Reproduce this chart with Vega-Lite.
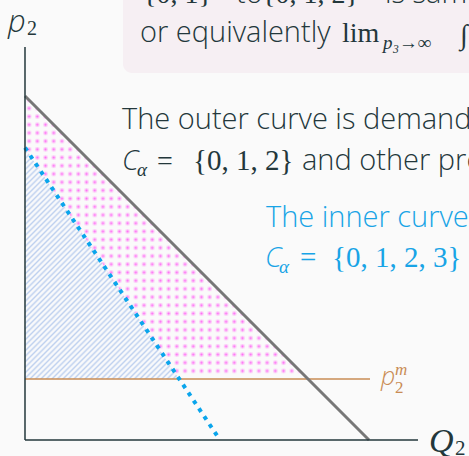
{
  "$schema": "https://vega.github.io/schema/vega-lite/v6.json",
  "width": 469,
  "height": 456,
  "autosize": {"type": "none"},
  "padding": 0,
  "background": "#fafafa",
  "config": {"view": {"stroke": null}},
  "datasets": {
    "pink": [{"y": 1.773, "x": 8.227, "x2": 4.485}, {"y": 8.5, "x": 1.5, "x2": 0}, {"y": 10, "x": 0, "x2": 0}],
    "blue": [{"y": 1.773, "x": 4.485, "x2": 0}, {"y": 8.5, "x": 0, "x2": 0}]
  },
  "encoding": {
    "x": {"field": "x", "type": "quantitative", "scale": {"domain": [-0.7267, 12.907], "nice": false, "zero": false}, "axis": null},
    "y": {"field": "y", "type": "quantitative", "scale": {"domain": [-0.4651, 12.7907], "nice": false, "zero": false}, "axis": null}
  },
  "layer": [
    {
      "data": {"values": [{"x": 2.849, "x2": 14.5, "y": 10.669, "y2": 13.5}]},
      "mark": {"type": "rect", "color": "#f6eff3", "cornerRadius": 9},
      "encoding": {"x2": {"field": "x2"}, "y2": {"field": "y2"}}
    },
    {
      "data": {"name": "blue"},
      "mark": {"type": "area", "orient": "horizontal", "fill": {"gradient": "linear", "x1": 0, "y1": 0, "x2": 0.769, "y2": 1.154, "stops": [
        {"offset": 0, "color": "#bfd1ef"}, {"offset": 0.0052, "color": "#f8f9fb"},
        {"offset": 0.0091, "color": "#f8f9fb"}, {"offset": 0.0143, "color": "#bfd1ef"}, {"offset": 0.0195, "color": "#f8f9fb"},
        {"offset": 0.0233, "color": "#f8f9fb"}, {"offset": 0.0285, "color": "#bfd1ef"}, {"offset": 0.0337, "color": "#f8f9fb"},
        {"offset": 0.0376, "color": "#f8f9fb"}, {"offset": 0.0428, "color": "#bfd1ef"}, {"offset": 0.0480, "color": "#f8f9fb"},
        {"offset": 0.0518, "color": "#f8f9fb"}, {"offset": 0.0570, "color": "#bfd1ef"}, {"offset": 0.0622, "color": "#f8f9fb"},
        {"offset": 0.0661, "color": "#f8f9fb"}, {"offset": 0.0713, "color": "#bfd1ef"}, {"offset": 0.0765, "color": "#f8f9fb"},
        {"offset": 0.0803, "color": "#f8f9fb"}, {"offset": 0.0855, "color": "#bfd1ef"}, {"offset": 0.0907, "color": "#f8f9fb"},
        {"offset": 0.0946, "color": "#f8f9fb"}, {"offset": 0.0998, "color": "#bfd1ef"}, {"offset": 0.1050, "color": "#f8f9fb"},
        {"offset": 0.1088, "color": "#f8f9fb"}, {"offset": 0.1140, "color": "#bfd1ef"}, {"offset": 0.1192, "color": "#f8f9fb"},
        {"offset": 0.1231, "color": "#f8f9fb"}, {"offset": 0.1283, "color": "#bfd1ef"}, {"offset": 0.1335, "color": "#f8f9fb"},
        {"offset": 0.1373, "color": "#f8f9fb"}, {"offset": 0.1425, "color": "#bfd1ef"}, {"offset": 0.1477, "color": "#f8f9fb"},
        {"offset": 0.1516, "color": "#f8f9fb"}, {"offset": 0.1568, "color": "#bfd1ef"}, {"offset": 0.1620, "color": "#f8f9fb"},
        {"offset": 0.1658, "color": "#f8f9fb"}, {"offset": 0.1710, "color": "#bfd1ef"}, {"offset": 0.1762, "color": "#f8f9fb"},
        {"offset": 0.1801, "color": "#f8f9fb"}, {"offset": 0.1853, "color": "#bfd1ef"}, {"offset": 0.1905, "color": "#f8f9fb"},
        {"offset": 0.1943, "color": "#f8f9fb"}, {"offset": 0.1995, "color": "#bfd1ef"}, {"offset": 0.2047, "color": "#f8f9fb"},
        {"offset": 0.2086, "color": "#f8f9fb"}, {"offset": 0.2138, "color": "#bfd1ef"}, {"offset": 0.2190, "color": "#f8f9fb"},
        {"offset": 0.2228, "color": "#f8f9fb"}, {"offset": 0.2280, "color": "#bfd1ef"}, {"offset": 0.2332, "color": "#f8f9fb"},
        {"offset": 0.2371, "color": "#f8f9fb"}, {"offset": 0.2423, "color": "#bfd1ef"}, {"offset": 0.2475, "color": "#f8f9fb"},
        {"offset": 0.2513, "color": "#f8f9fb"}, {"offset": 0.2565, "color": "#bfd1ef"}, {"offset": 0.2617, "color": "#f8f9fb"},
        {"offset": 0.2656, "color": "#f8f9fb"}, {"offset": 0.2708, "color": "#bfd1ef"}, {"offset": 0.2760, "color": "#f8f9fb"},
        {"offset": 0.2798, "color": "#f8f9fb"}, {"offset": 0.2850, "color": "#bfd1ef"}, {"offset": 0.2902, "color": "#f8f9fb"},
        {"offset": 0.2941, "color": "#f8f9fb"}, {"offset": 0.2993, "color": "#bfd1ef"}, {"offset": 0.3045, "color": "#f8f9fb"},
        {"offset": 0.3083, "color": "#f8f9fb"}, {"offset": 0.3135, "color": "#bfd1ef"}, {"offset": 0.3187, "color": "#f8f9fb"},
        {"offset": 0.3226, "color": "#f8f9fb"}, {"offset": 0.3278, "color": "#bfd1ef"}, {"offset": 0.3330, "color": "#f8f9fb"},
        {"offset": 0.3368, "color": "#f8f9fb"}, {"offset": 0.3420, "color": "#bfd1ef"}, {"offset": 0.3472, "color": "#f8f9fb"},
        {"offset": 0.3511, "color": "#f8f9fb"}, {"offset": 0.3563, "color": "#bfd1ef"}, {"offset": 0.3615, "color": "#f8f9fb"},
        {"offset": 0.3653, "color": "#f8f9fb"}, {"offset": 0.3705, "color": "#bfd1ef"}, {"offset": 0.3757, "color": "#f8f9fb"},
        {"offset": 0.3796, "color": "#f8f9fb"}, {"offset": 0.3848, "color": "#bfd1ef"}, {"offset": 0.3900, "color": "#f8f9fb"},
        {"offset": 0.3939, "color": "#f8f9fb"}, {"offset": 0.3991, "color": "#bfd1ef"}, {"offset": 0.4043, "color": "#f8f9fb"},
        {"offset": 0.4081, "color": "#f8f9fb"}, {"offset": 0.4133, "color": "#bfd1ef"}, {"offset": 0.4185, "color": "#f8f9fb"},
        {"offset": 0.4224, "color": "#f8f9fb"}, {"offset": 0.4276, "color": "#bfd1ef"}, {"offset": 0.4328, "color": "#f8f9fb"},
        {"offset": 0.4366, "color": "#f8f9fb"}, {"offset": 0.4418, "color": "#bfd1ef"}, {"offset": 0.4470, "color": "#f8f9fb"},
        {"offset": 0.4509, "color": "#f8f9fb"}, {"offset": 0.4561, "color": "#bfd1ef"}, {"offset": 0.4613, "color": "#f8f9fb"},
        {"offset": 0.4651, "color": "#f8f9fb"}, {"offset": 0.4703, "color": "#bfd1ef"}, {"offset": 0.4755, "color": "#f8f9fb"},
        {"offset": 0.4794, "color": "#f8f9fb"}, {"offset": 0.4846, "color": "#bfd1ef"}, {"offset": 0.4898, "color": "#f8f9fb"},
        {"offset": 0.4936, "color": "#f8f9fb"}, {"offset": 0.4988, "color": "#bfd1ef"}, {"offset": 0.5040, "color": "#f8f9fb"},
        {"offset": 0.5079, "color": "#f8f9fb"}, {"offset": 0.5131, "color": "#bfd1ef"}, {"offset": 0.5183, "color": "#f8f9fb"},
        {"offset": 0.5221, "color": "#f8f9fb"}, {"offset": 0.5273, "color": "#bfd1ef"}, {"offset": 0.5325, "color": "#f8f9fb"},
        {"offset": 0.5364, "color": "#f8f9fb"}, {"offset": 0.5416, "color": "#bfd1ef"}, {"offset": 0.5468, "color": "#f8f9fb"},
        {"offset": 0.5506, "color": "#f8f9fb"}, {"offset": 0.5558, "color": "#bfd1ef"}, {"offset": 0.5610, "color": "#f8f9fb"},
        {"offset": 0.5649, "color": "#f8f9fb"}, {"offset": 0.5701, "color": "#bfd1ef"}, {"offset": 0.5753, "color": "#f8f9fb"},
        {"offset": 0.5791, "color": "#f8f9fb"}, {"offset": 0.5843, "color": "#bfd1ef"}, {"offset": 0.5895, "color": "#f8f9fb"},
        {"offset": 0.5934, "color": "#f8f9fb"}, {"offset": 0.5986, "color": "#bfd1ef"}, {"offset": 0.6038, "color": "#f8f9fb"},
        {"offset": 0.6076, "color": "#f8f9fb"}, {"offset": 0.6128, "color": "#bfd1ef"}, {"offset": 0.6180, "color": "#f8f9fb"},
        {"offset": 0.6219, "color": "#f8f9fb"}, {"offset": 0.6271, "color": "#bfd1ef"}, {"offset": 0.6323, "color": "#f8f9fb"},
        {"offset": 0.6361, "color": "#f8f9fb"}, {"offset": 0.6413, "color": "#bfd1ef"}, {"offset": 0.6465, "color": "#f8f9fb"},
        {"offset": 0.6504, "color": "#f8f9fb"}, {"offset": 0.6556, "color": "#bfd1ef"}, {"offset": 0.6608, "color": "#f8f9fb"},
        {"offset": 0.6646, "color": "#f8f9fb"}, {"offset": 0.6698, "color": "#bfd1ef"}, {"offset": 0.6750, "color": "#f8f9fb"},
        {"offset": 0.6789, "color": "#f8f9fb"}, {"offset": 0.6841, "color": "#bfd1ef"}, {"offset": 0.6893, "color": "#f8f9fb"},
        {"offset": 0.6931, "color": "#f8f9fb"}, {"offset": 0.6983, "color": "#bfd1ef"}, {"offset": 0.7035, "color": "#f8f9fb"},
        {"offset": 0.7074, "color": "#f8f9fb"}, {"offset": 0.7126, "color": "#bfd1ef"}, {"offset": 0.7178, "color": "#f8f9fb"},
        {"offset": 0.7216, "color": "#f8f9fb"}, {"offset": 0.7268, "color": "#bfd1ef"}, {"offset": 0.7320, "color": "#f8f9fb"},
        {"offset": 0.7359, "color": "#f8f9fb"}, {"offset": 0.7411, "color": "#bfd1ef"}, {"offset": 0.7463, "color": "#f8f9fb"},
        {"offset": 0.7502, "color": "#f8f9fb"}, {"offset": 0.7554, "color": "#bfd1ef"}, {"offset": 0.7606, "color": "#f8f9fb"},
        {"offset": 0.7644, "color": "#f8f9fb"}, {"offset": 0.7696, "color": "#bfd1ef"}, {"offset": 0.7748, "color": "#f8f9fb"},
        {"offset": 0.7787, "color": "#f8f9fb"}, {"offset": 0.7839, "color": "#bfd1ef"}, {"offset": 0.7891, "color": "#f8f9fb"},
        {"offset": 0.7929, "color": "#f8f9fb"}, {"offset": 0.7981, "color": "#bfd1ef"}, {"offset": 0.8033, "color": "#f8f9fb"},
        {"offset": 0.8072, "color": "#f8f9fb"}, {"offset": 0.8124, "color": "#bfd1ef"}, {"offset": 0.8176, "color": "#f8f9fb"},
        {"offset": 0.8214, "color": "#f8f9fb"}, {"offset": 0.8266, "color": "#bfd1ef"}, {"offset": 0.8318, "color": "#f8f9fb"},
        {"offset": 0.8357, "color": "#f8f9fb"}, {"offset": 0.8409, "color": "#bfd1ef"}, {"offset": 0.8461, "color": "#f8f9fb"},
        {"offset": 0.8499, "color": "#f8f9fb"}, {"offset": 0.8551, "color": "#bfd1ef"}, {"offset": 0.8603, "color": "#f8f9fb"},
        {"offset": 0.8642, "color": "#f8f9fb"}, {"offset": 0.8694, "color": "#bfd1ef"}, {"offset": 0.8746, "color": "#f8f9fb"},
        {"offset": 0.8784, "color": "#f8f9fb"}, {"offset": 0.8836, "color": "#bfd1ef"}, {"offset": 0.8888, "color": "#f8f9fb"},
        {"offset": 0.8927, "color": "#f8f9fb"}, {"offset": 0.8979, "color": "#bfd1ef"}, {"offset": 0.9031, "color": "#f8f9fb"},
        {"offset": 0.9069, "color": "#f8f9fb"}, {"offset": 0.9121, "color": "#bfd1ef"}, {"offset": 0.9173, "color": "#f8f9fb"},
        {"offset": 0.9212, "color": "#f8f9fb"}, {"offset": 0.9264, "color": "#bfd1ef"}, {"offset": 0.9316, "color": "#f8f9fb"},
        {"offset": 0.9354, "color": "#f8f9fb"}, {"offset": 0.9406, "color": "#bfd1ef"}, {"offset": 0.9458, "color": "#f8f9fb"},
        {"offset": 0.9497, "color": "#f8f9fb"}, {"offset": 0.9549, "color": "#bfd1ef"}, {"offset": 0.9601, "color": "#f8f9fb"},
        {"offset": 0.9639, "color": "#f8f9fb"}, {"offset": 0.9691, "color": "#bfd1ef"}, {"offset": 0.9743, "color": "#f8f9fb"},
        {"offset": 0.9782, "color": "#f8f9fb"}, {"offset": 0.9834, "color": "#bfd1ef"}, {"offset": 0.9886, "color": "#f8f9fb"},
        {"offset": 0.9924, "color": "#f8f9fb"}, {"offset": 0.9976, "color": "#bfd1ef"}, {"offset": 1, "color": "#f8f9fb"}
      ]}},
      "encoding": {"x2": {"field": "x2"}}
    },
    {
      "data": {"name": "pink"},
      "mark": {"type": "area", "orient": "horizontal", "fill": {"gradient": "linear", "x1": 0, "y1": 0, "x2": 0, "y2": 1, "stops": [
        {"offset": 0.0045, "color": "#fafafa"}, {"offset": 0.0145, "color": "#ff6ef5"}, {"offset": 0.0245, "color": "#fafafa"},
        {"offset": 0.0335, "color": "#fafafa"}, {"offset": 0.0435, "color": "#ff6ef5"}, {"offset": 0.0535, "color": "#fafafa"},
        {"offset": 0.0625, "color": "#fafafa"}, {"offset": 0.0725, "color": "#ff6ef5"}, {"offset": 0.0825, "color": "#fafafa"},
        {"offset": 0.0915, "color": "#fafafa"}, {"offset": 0.1015, "color": "#ff6ef5"}, {"offset": 0.1115, "color": "#fafafa"},
        {"offset": 0.1205, "color": "#fafafa"}, {"offset": 0.1305, "color": "#ff6ef5"}, {"offset": 0.1405, "color": "#fafafa"},
        {"offset": 0.1495, "color": "#fafafa"}, {"offset": 0.1595, "color": "#ff6ef5"}, {"offset": 0.1695, "color": "#fafafa"},
        {"offset": 0.1785, "color": "#fafafa"}, {"offset": 0.1885, "color": "#ff6ef5"}, {"offset": 0.1985, "color": "#fafafa"},
        {"offset": 0.2075, "color": "#fafafa"}, {"offset": 0.2175, "color": "#ff6ef5"}, {"offset": 0.2275, "color": "#fafafa"},
        {"offset": 0.2365, "color": "#fafafa"}, {"offset": 0.2465, "color": "#ff6ef5"}, {"offset": 0.2565, "color": "#fafafa"},
        {"offset": 0.2655, "color": "#fafafa"}, {"offset": 0.2755, "color": "#ff6ef5"}, {"offset": 0.2855, "color": "#fafafa"},
        {"offset": 0.2945, "color": "#fafafa"}, {"offset": 0.3045, "color": "#ff6ef5"}, {"offset": 0.3145, "color": "#fafafa"},
        {"offset": 0.3235, "color": "#fafafa"}, {"offset": 0.3335, "color": "#ff6ef5"}, {"offset": 0.3435, "color": "#fafafa"},
        {"offset": 0.3525, "color": "#fafafa"}, {"offset": 0.3625, "color": "#ff6ef5"}, {"offset": 0.3725, "color": "#fafafa"},
        {"offset": 0.3815, "color": "#fafafa"}, {"offset": 0.3915, "color": "#ff6ef5"}, {"offset": 0.4015, "color": "#fafafa"},
        {"offset": 0.4105, "color": "#fafafa"}, {"offset": 0.4205, "color": "#ff6ef5"}, {"offset": 0.4305, "color": "#fafafa"},
        {"offset": 0.4395, "color": "#fafafa"}, {"offset": 0.4495, "color": "#ff6ef5"}, {"offset": 0.4595, "color": "#fafafa"},
        {"offset": 0.4685, "color": "#fafafa"}, {"offset": 0.4785, "color": "#ff6ef5"}, {"offset": 0.4885, "color": "#fafafa"},
        {"offset": 0.4975, "color": "#fafafa"}, {"offset": 0.5075, "color": "#ff6ef5"}, {"offset": 0.5175, "color": "#fafafa"},
        {"offset": 0.5265, "color": "#fafafa"}, {"offset": 0.5365, "color": "#ff6ef5"}, {"offset": 0.5465, "color": "#fafafa"},
        {"offset": 0.5555, "color": "#fafafa"}, {"offset": 0.5655, "color": "#ff6ef5"}, {"offset": 0.5755, "color": "#fafafa"},
        {"offset": 0.5845, "color": "#fafafa"}, {"offset": 0.5945, "color": "#ff6ef5"}, {"offset": 0.6045, "color": "#fafafa"},
        {"offset": 0.6135, "color": "#fafafa"}, {"offset": 0.6235, "color": "#ff6ef5"}, {"offset": 0.6335, "color": "#fafafa"},
        {"offset": 0.6425, "color": "#fafafa"}, {"offset": 0.6525, "color": "#ff6ef5"}, {"offset": 0.6625, "color": "#fafafa"},
        {"offset": 0.6715, "color": "#fafafa"}, {"offset": 0.6815, "color": "#ff6ef5"}, {"offset": 0.6915, "color": "#fafafa"},
        {"offset": 0.7005, "color": "#fafafa"}, {"offset": 0.7105, "color": "#ff6ef5"}, {"offset": 0.7205, "color": "#fafafa"},
        {"offset": 0.7295, "color": "#fafafa"}, {"offset": 0.7395, "color": "#ff6ef5"}, {"offset": 0.7495, "color": "#fafafa"},
        {"offset": 0.7585, "color": "#fafafa"}, {"offset": 0.7685, "color": "#ff6ef5"}, {"offset": 0.7785, "color": "#fafafa"},
        {"offset": 0.7875, "color": "#fafafa"}, {"offset": 0.7975, "color": "#ff6ef5"}, {"offset": 0.8075, "color": "#fafafa"},
        {"offset": 0.8165, "color": "#fafafa"}, {"offset": 0.8265, "color": "#ff6ef5"}, {"offset": 0.8365, "color": "#fafafa"},
        {"offset": 0.8455, "color": "#fafafa"}, {"offset": 0.8555, "color": "#ff6ef5"}, {"offset": 0.8655, "color": "#fafafa"},
        {"offset": 0.8745, "color": "#fafafa"}, {"offset": 0.8845, "color": "#ff6ef5"}, {"offset": 0.8945, "color": "#fafafa"},
        {"offset": 0.9035, "color": "#fafafa"}, {"offset": 0.9135, "color": "#ff6ef5"}, {"offset": 0.9235, "color": "#fafafa"},
        {"offset": 0.9325, "color": "#fafafa"}, {"offset": 0.9425, "color": "#ff6ef5"}, {"offset": 0.9525, "color": "#fafafa"},
        {"offset": 0.9615, "color": "#fafafa"}, {"offset": 0.9715, "color": "#ff6ef5"}, {"offset": 0.9815, "color": "#fafafa"}
      ]}},
      "encoding": {"x2": {"field": "x2"}}
    },
    {
      "data": {"name": "pink"},
      "mark": {"type": "area", "orient": "horizontal", "fill": {"gradient": "linear", "x1": 0, "y1": 0, "x2": 1, "y2": 0, "stops": [
        {"offset": 0.0045, "color": "rgba(250,250,250,1)"}, {"offset": 0.0145, "color": "rgba(250,250,250,0)"}, {"offset": 0.0245, "color": "rgba(250,250,250,1)"},
        {"offset": 0.0335, "color": "rgba(250,250,250,1)"}, {"offset": 0.0435, "color": "rgba(250,250,250,0)"}, {"offset": 0.0535, "color": "rgba(250,250,250,1)"},
        {"offset": 0.0625, "color": "rgba(250,250,250,1)"}, {"offset": 0.0725, "color": "rgba(250,250,250,0)"}, {"offset": 0.0825, "color": "rgba(250,250,250,1)"},
        {"offset": 0.0915, "color": "rgba(250,250,250,1)"}, {"offset": 0.1015, "color": "rgba(250,250,250,0)"}, {"offset": 0.1115, "color": "rgba(250,250,250,1)"},
        {"offset": 0.1205, "color": "rgba(250,250,250,1)"}, {"offset": 0.1305, "color": "rgba(250,250,250,0)"}, {"offset": 0.1405, "color": "rgba(250,250,250,1)"},
        {"offset": 0.1495, "color": "rgba(250,250,250,1)"}, {"offset": 0.1595, "color": "rgba(250,250,250,0)"}, {"offset": 0.1695, "color": "rgba(250,250,250,1)"},
        {"offset": 0.1785, "color": "rgba(250,250,250,1)"}, {"offset": 0.1885, "color": "rgba(250,250,250,0)"}, {"offset": 0.1985, "color": "rgba(250,250,250,1)"},
        {"offset": 0.2075, "color": "rgba(250,250,250,1)"}, {"offset": 0.2175, "color": "rgba(250,250,250,0)"}, {"offset": 0.2275, "color": "rgba(250,250,250,1)"},
        {"offset": 0.2365, "color": "rgba(250,250,250,1)"}, {"offset": 0.2465, "color": "rgba(250,250,250,0)"}, {"offset": 0.2565, "color": "rgba(250,250,250,1)"},
        {"offset": 0.2655, "color": "rgba(250,250,250,1)"}, {"offset": 0.2755, "color": "rgba(250,250,250,0)"}, {"offset": 0.2855, "color": "rgba(250,250,250,1)"},
        {"offset": 0.2945, "color": "rgba(250,250,250,1)"}, {"offset": 0.3045, "color": "rgba(250,250,250,0)"}, {"offset": 0.3145, "color": "rgba(250,250,250,1)"},
        {"offset": 0.3235, "color": "rgba(250,250,250,1)"}, {"offset": 0.3335, "color": "rgba(250,250,250,0)"}, {"offset": 0.3435, "color": "rgba(250,250,250,1)"},
        {"offset": 0.3525, "color": "rgba(250,250,250,1)"}, {"offset": 0.3625, "color": "rgba(250,250,250,0)"}, {"offset": 0.3725, "color": "rgba(250,250,250,1)"},
        {"offset": 0.3815, "color": "rgba(250,250,250,1)"}, {"offset": 0.3915, "color": "rgba(250,250,250,0)"}, {"offset": 0.4015, "color": "rgba(250,250,250,1)"},
        {"offset": 0.4105, "color": "rgba(250,250,250,1)"}, {"offset": 0.4205, "color": "rgba(250,250,250,0)"}, {"offset": 0.4305, "color": "rgba(250,250,250,1)"},
        {"offset": 0.4395, "color": "rgba(250,250,250,1)"}, {"offset": 0.4495, "color": "rgba(250,250,250,0)"}, {"offset": 0.4595, "color": "rgba(250,250,250,1)"},
        {"offset": 0.4685, "color": "rgba(250,250,250,1)"}, {"offset": 0.4785, "color": "rgba(250,250,250,0)"}, {"offset": 0.4885, "color": "rgba(250,250,250,1)"},
        {"offset": 0.4975, "color": "rgba(250,250,250,1)"}, {"offset": 0.5075, "color": "rgba(250,250,250,0)"}, {"offset": 0.5175, "color": "rgba(250,250,250,1)"},
        {"offset": 0.5265, "color": "rgba(250,250,250,1)"}, {"offset": 0.5365, "color": "rgba(250,250,250,0)"}, {"offset": 0.5465, "color": "rgba(250,250,250,1)"},
        {"offset": 0.5555, "color": "rgba(250,250,250,1)"}, {"offset": 0.5655, "color": "rgba(250,250,250,0)"}, {"offset": 0.5755, "color": "rgba(250,250,250,1)"},
        {"offset": 0.5845, "color": "rgba(250,250,250,1)"}, {"offset": 0.5945, "color": "rgba(250,250,250,0)"}, {"offset": 0.6045, "color": "rgba(250,250,250,1)"},
        {"offset": 0.6135, "color": "rgba(250,250,250,1)"}, {"offset": 0.6235, "color": "rgba(250,250,250,0)"}, {"offset": 0.6335, "color": "rgba(250,250,250,1)"},
        {"offset": 0.6425, "color": "rgba(250,250,250,1)"}, {"offset": 0.6525, "color": "rgba(250,250,250,0)"}, {"offset": 0.6625, "color": "rgba(250,250,250,1)"},
        {"offset": 0.6715, "color": "rgba(250,250,250,1)"}, {"offset": 0.6815, "color": "rgba(250,250,250,0)"}, {"offset": 0.6915, "color": "rgba(250,250,250,1)"},
        {"offset": 0.7005, "color": "rgba(250,250,250,1)"}, {"offset": 0.7105, "color": "rgba(250,250,250,0)"}, {"offset": 0.7205, "color": "rgba(250,250,250,1)"},
        {"offset": 0.7295, "color": "rgba(250,250,250,1)"}, {"offset": 0.7395, "color": "rgba(250,250,250,0)"}, {"offset": 0.7495, "color": "rgba(250,250,250,1)"},
        {"offset": 0.7585, "color": "rgba(250,250,250,1)"}, {"offset": 0.7685, "color": "rgba(250,250,250,0)"}, {"offset": 0.7785, "color": "rgba(250,250,250,1)"},
        {"offset": 0.7875, "color": "rgba(250,250,250,1)"}, {"offset": 0.7975, "color": "rgba(250,250,250,0)"}, {"offset": 0.8075, "color": "rgba(250,250,250,1)"},
        {"offset": 0.8165, "color": "rgba(250,250,250,1)"}, {"offset": 0.8265, "color": "rgba(250,250,250,0)"}, {"offset": 0.8365, "color": "rgba(250,250,250,1)"},
        {"offset": 0.8455, "color": "rgba(250,250,250,1)"}, {"offset": 0.8555, "color": "rgba(250,250,250,0)"}, {"offset": 0.8655, "color": "rgba(250,250,250,1)"},
        {"offset": 0.8745, "color": "rgba(250,250,250,1)"}, {"offset": 0.8845, "color": "rgba(250,250,250,0)"}, {"offset": 0.8945, "color": "rgba(250,250,250,1)"},
        {"offset": 0.9035, "color": "rgba(250,250,250,1)"}, {"offset": 0.9135, "color": "rgba(250,250,250,0)"}, {"offset": 0.9235, "color": "rgba(250,250,250,1)"},
        {"offset": 0.9325, "color": "rgba(250,250,250,1)"}, {"offset": 0.9425, "color": "rgba(250,250,250,0)"}, {"offset": 0.9525, "color": "rgba(250,250,250,1)"},
        {"offset": 0.9615, "color": "rgba(250,250,250,1)"}, {"offset": 0.9715, "color": "rgba(250,250,250,0)"}, {"offset": 0.9815, "color": "rgba(250,250,250,1)"}
      ]}},
      "encoding": {"x2": {"field": "x2"}}
    },
    {
      "data": {"values": [{"x": 0, "x2": 10.03, "y": 1.773}]},
      "mark": {"type": "rule", "color": "#c98c55", "strokeWidth": 1.5},
      "encoding": {"x2": {"field": "x2"}}
    },
    {
      "data": {"values": [{"x": 0, "y": 8.5}, {"x": 5.667, "y": 0}]},
      "mark": {"type": "line", "color": "#0aa5ec", "strokeWidth": 4, "strokeDash": [4, 5.5]},
      "encoding": {}
    },
    {
      "data": {"values": [{"x": 0, "y": 10}, {"x": 10, "y": 0}]},
      "mark": {"type": "line", "color": "#777777", "strokeWidth": 3},
      "encoding": {}
    },
    {
      "data": {"values": [{"x": 0, "y": 0, "x2": 0, "y2": 11.424}, {"x": 0, "y": 0, "x2": 11.424, "y2": 0}]},
      "mark": {"type": "rule", "color": "#23373b", "strokeWidth": 1.5},
      "encoding": {"x2": {"field": "x2"}, "y2": {"field": "y2"}}
    },
    {
      "data": {"values": [
        {"x": 3.343, "y": 11.570, "t": "or equivalently"},
        {"x": 2.820, "y": 9.041, "t": "The outer curve is demand when"},
        {"x": 8.052, "y": 7.849, "t": "and other products"},
        {"x": 6.134, "y": 12.703, "t": "to"},
        {"x": 10.465, "y": 12.703, "t": "is same"}
      ]},
      "mark": {"type": "text", "align": "left", "baseline": "alphabetic", "font": "Open Sans", "fontWeight": 300, "fontSize": 29, "color": "#23373b"},
      "encoding": {"text": {"field": "t"}}
    },
    {
      "data": {"values": [{"x": 7.006, "y": 6.192, "t": "The inner curve is demand when"}]},
      "mark": {"type": "text", "align": "left", "baseline": "alphabetic", "font": "Open Sans", "fontWeight": 300, "fontSize": 29, "color": "#18a4e6"},
      "encoding": {"text": {"field": "t"}}
    },
    {
      "data": {"values": [{"x": 2.820, "y": 7.849, "t": "C"}]},
      "mark": {"type": "text", "align": "left", "baseline": "alphabetic", "font": "Open Sans", "fontWeight": 300, "fontStyle": "italic", "fontSize": 28, "color": "#23373b"},
      "encoding": {"text": {"field": "t"}}
    },
    {
      "data": {"values": [{"x": 6.977, "y": 5.029, "t": "C"}]},
      "mark": {"type": "text", "align": "left", "baseline": "alphabetic", "font": "Open Sans", "fontWeight": 300, "fontStyle": "italic", "fontSize": 28, "color": "#18a4e6"},
      "encoding": {"text": {"field": "t"}}
    },
    {
      "data": {"values": [{"x": -0.494, "y": 11.860, "t": "p"}]},
      "mark": {"type": "text", "align": "left", "baseline": "alphabetic", "font": "Open Sans", "fontWeight": 300, "fontStyle": "italic", "fontSize": 31, "color": "#23373b"},
      "encoding": {"text": {"field": "t"}}
    },
    {
      "data": {"values": [{"x": 10.349, "y": 1.599, "t": "p"}]},
      "mark": {"type": "text", "align": "left", "baseline": "alphabetic", "font": "Open Sans", "fontWeight": 300, "fontStyle": "italic", "fontSize": 25, "color": "#c98c55"},
      "encoding": {"text": {"field": "t"}}
    },
    {
      "data": {"values": [
        {"x": 3.837, "y": 7.849, "t": "="},
        {"x": 9.215, "y": 11.570, "t": "lim"},
        {"x": 12.645, "y": 11.512, "t": "∫"},
        {"x": 3.430, "y": 12.703, "t": "{0, 1}"},
        {"x": 6.890, "y": 12.703, "t": "{0, 1, 2}"}
      ]},
      "mark": {"type": "text", "align": "left", "baseline": "alphabetic", "font": "Liberation Serif", "fontSize": 28, "color": "#23373b"},
      "encoding": {"text": {"field": "t"}}
    },
    {
      "data": {"values": [{"x": 4.884, "y": 7.849, "t": "{0, 1, 2}"}]},
      "mark": {"type": "text", "align": "left", "baseline": "alphabetic", "font": "Liberation Serif", "fontSize": 29, "color": "#23373b"},
      "encoding": {"text": {"field": "t"}}
    },
    {
      "data": {"values": [
        {"x": 7.994, "y": 5.029, "t": "="},
        {"x": 8.924, "y": 5.029, "t": "{0, 1, 2, 3}"}
      ]},
      "mark": {"type": "text", "align": "left", "baseline": "alphabetic", "font": "Liberation Serif", "fontSize": 29, "color": "#18a4e6"},
      "encoding": {"text": {"field": "t"}}
    },
    {
      "data": {"values": [
        {"x": 3.256, "y": 7.674, "t": "α"},
        {"x": 10.407, "y": 11.366, "t": "p₃→∞"}
      ]},
      "mark": {"type": "text", "align": "left", "baseline": "alphabetic", "font": "Liberation Serif", "fontStyle": "italic", "fontSize": 19, "color": "#23373b"},
      "encoding": {"text": {"field": "t"}}
    },
    {
      "data": {"values": [{"x": 7.384, "y": 4.855, "t": "α"}]},
      "mark": {"type": "text", "align": "left", "baseline": "alphabetic", "font": "Liberation Serif", "fontStyle": "italic", "fontSize": 19, "color": "#18a4e6"},
      "encoding": {"text": {"field": "t"}}
    },
    {
      "data": {"values": [{"x": 0.058, "y": 11.773, "t": "2"}]},
      "mark": {"type": "text", "align": "left", "baseline": "alphabetic", "font": "Liberation Serif", "fontSize": 20, "color": "#23373b"},
      "encoding": {"text": {"field": "t"}}
    },
    {
      "data": {"values": [{"x": 11.744, "y": -0.349, "t": "Q"}]},
      "mark": {"type": "text", "align": "left", "baseline": "alphabetic", "font": "Liberation Serif", "fontStyle": "italic", "fontSize": 34, "color": "#23373b"},
      "encoding": {"text": {"field": "t"}}
    },
    {
      "data": {"values": [{"x": 12.50, "y": -0.436, "t": "2"}]},
      "mark": {"type": "text", "align": "left", "baseline": "alphabetic", "font": "Liberation Serif", "fontSize": 21, "color": "#23373b"},
      "encoding": {"text": {"field": "t"}}
    },
    {
      "data": {"values": [{"x": 10.756, "y": 1.890, "t": "m"}]},
      "mark": {"type": "text", "align": "left", "baseline": "alphabetic", "font": "Liberation Serif", "fontStyle": "italic", "fontSize": 17, "color": "#c98c55"},
      "encoding": {"text": {"field": "t"}}
    },
    {
      "data": {"values": [{"x": 10.756, "y": 1.366, "t": "2"}]},
      "mark": {"type": "text", "align": "left", "baseline": "alphabetic", "font": "Liberation Serif", "fontSize": 17, "color": "#c98c55"},
      "encoding": {"text": {"field": "t"}}
    }
  ]
}
